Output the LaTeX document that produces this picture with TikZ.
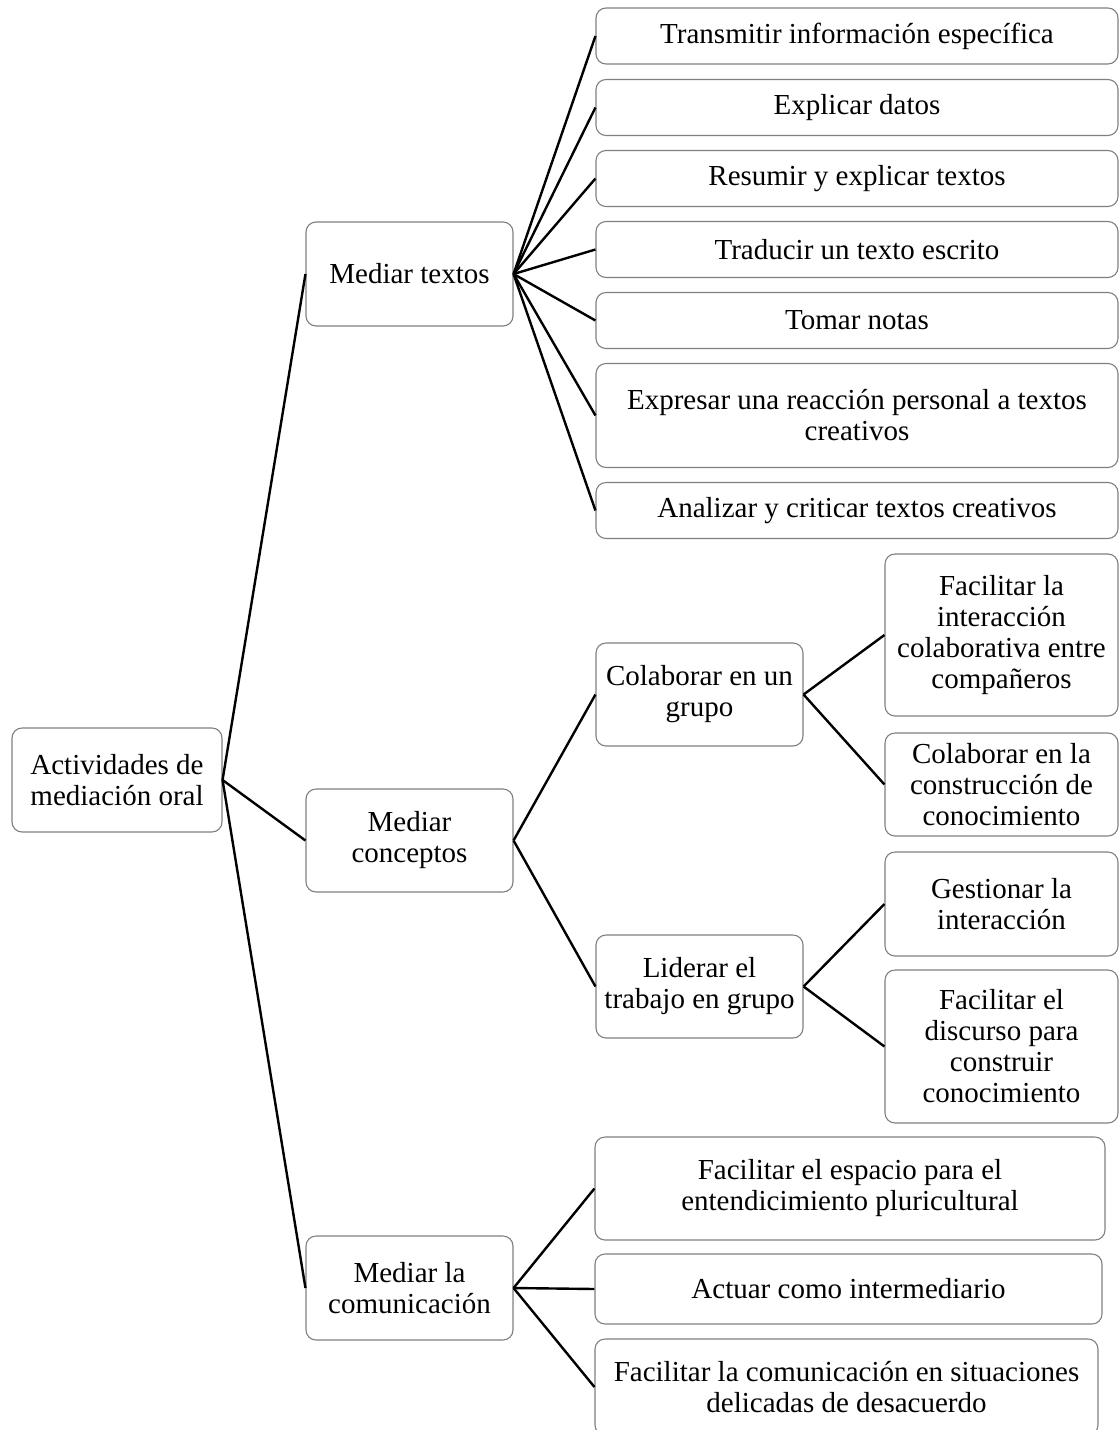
\documentclass[tikz,border=0pt]{standalone}
\usepackage{fontspec}
\setmainfont{Liberation Serif}
\begin{document}
\begin{tikzpicture}[x=1pt,y=-1pt,
  box/.style={draw=black!50, line width=1.1pt, rounded corners=10pt, inner sep=0pt, align=center,
    font=\fontsize{29}{31}\selectfont},
  link/.style={line width=2.4pt, black}]
\useasboundingbox (0,0) rectangle (1119,1430);
\clip (0,0) rectangle (1119,1430);
% root
\node[box, minimum width=210pt, minimum height=104pt] (root) at (117,780) {Actividades de\\mediación oral};
% level 1
\node[box, minimum width=207pt, minimum height=104pt] (mt) at (409.5,274) {Mediar textos};
\node[box, minimum width=207pt, minimum height=103pt] (mc) at (409.5,840.5) {Mediar\\conceptos};
\node[box, minimum width=207pt, minimum height=104pt] (mcom) at (409.5,1288) {Mediar la\\comunicación};
% Mediar textos children
\node[box, minimum width=522pt, minimum height=56pt] (t1) at (857,36) {Transmitir información específica};
\node[box, minimum width=522pt, minimum height=56pt] (t2) at (857,107.5) {Explicar datos};
\node[box, minimum width=522pt, minimum height=56pt] (t3) at (857,178.5) {Resumir y explicar textos};
\node[box, minimum width=522pt, minimum height=56pt] (t4) at (857,249.5) {Traducir un texto escrito};
\node[box, minimum width=522pt, minimum height=56pt] (t5) at (857,320.5) {Tomar notas};
\node[box, minimum width=522pt, minimum height=104pt] (t6) at (857,415.5) {Expresar una reacción personal a textos\\creativos};
\node[box, minimum width=522pt, minimum height=56pt] (t7) at (857,510.5) {Analizar y criticar textos creativos};
% Mediar conceptos children
\node[box, minimum width=207pt, minimum height=103pt] (c1) at (699.5,694.5) {Colaborar en un\\grupo};
\node[box, minimum width=207pt, minimum height=103pt] (c2) at (699.5,986.5) {Liderar el\\trabajo en grupo};
% grandchildren
\node[box, minimum width=233pt, minimum height=162pt] (g1) at (1001.5,635) {Facilitar la\\interacción\\colaborativa entre\\compañeros};
\node[box, minimum width=233pt, minimum height=103pt] (g2) at (1001.5,784.5) {Colaborar en la\\construcción de\\conocimiento};
\node[box, minimum width=233pt, minimum height=104pt] (g3) at (1001.5,904) {Gestionar la\\interacción};
\node[box, minimum width=233pt, minimum height=153pt] (g4) at (1001.5,1046.5) {Facilitar el\\discurso para\\construir\\conocimiento};
% Mediar la comunicación children
\node[box, minimum width=510pt, minimum height=103pt] (m1) at (850,1188.5) {Facilitar el espacio para el\\entendicimiento pluricultural};
\node[box, minimum width=507pt, minimum height=70pt] (m2) at (848.5,1289) {Actuar como intermediario};
\node[box, minimum width=503pt, minimum height=96pt] (m3) at (846.5,1387) {Facilitar la comunicación en situaciones\\delicadas de desacuerdo};
% connectors
\foreach \n in {mt,mc,mcom} \draw[link] (root.east) -- (\n.west);
\foreach \n in {t1,t2,t3,t4,t5,t6,t7} \draw[link] (mt.east) -- (\n.west);
\foreach \n in {c1,c2} \draw[link] (mc.east) -- (\n.west);
\foreach \n in {g1,g2} \draw[link] (c1.east) -- (\n.west);
\foreach \n in {g3,g4} \draw[link] (c2.east) -- (\n.west);
\foreach \n in {m1,m2,m3} \draw[link] (mcom.east) -- (\n.west);
\end{tikzpicture}
\end{document}
